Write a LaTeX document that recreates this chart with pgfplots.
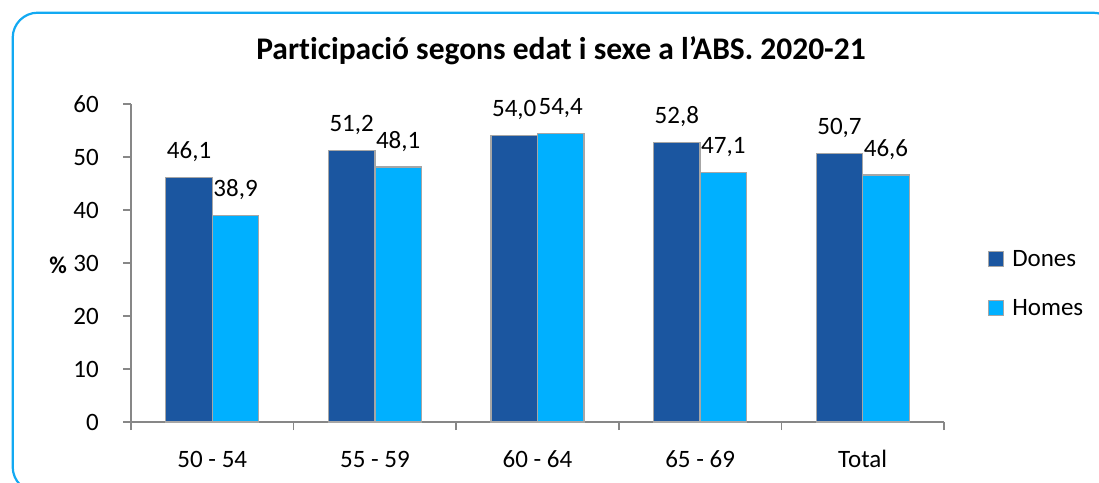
\documentclass[border=0pt]{standalone}
\usepackage{fontspec}
\setmainfont{Carlito}[Ligatures=NoCommon]
\usepackage{pgfplots}
\pgfplotsset{compat=1.18}
\definecolor{dones}{HTML}{1B56A0}
\definecolor{homes}{HTML}{00B0FF}
\definecolor{framec}{HTML}{12A9F2}
\definecolor{axisgray}{HTML}{878787}
\definecolor{bargray}{HTML}{A6A6A6}
\begin{document}
\begin{tikzpicture}[x=1pt,y=1pt]
\useasboundingbox (0,0) rectangle (1099,482);
\begin{scope}
\clip (0,0) rectangle (1099,482);
\draw[framec, line width=2.2pt, rounded corners=25pt] (12.7,469.3) rectangle (1118,-10);
\end{scope}
\node[anchor=base, inner sep=0pt, font=\fontsize{31.5}{36}\selectfont\bfseries] at (561,422.7) {Participació segons edat i sexe a l’ABS. 2020-21};
\node[anchor=center, inner sep=0pt, font=\fontsize{24}{28}\selectfont\bfseries] at (58,217) {\%};
\begin{axis}[
  at={(131pt,60pt)}, anchor=south west,
  scale only axis, width=813pt, height=318pt,
  xmin=-0.5, xmax=4.5, ymin=0, ymax=60,
  axis x line*=bottom, axis y line*=left,
  axis line style={-, axisgray, line width=1.6pt},
  /pgf/number format/assume math mode=true,
  ytick={0,10,...,60},
  xtick={-0.5,0.5,1.5,2.5,3.5,4.5},
  xticklabels={},
  extra x ticks={0,1,2,3,4},
  extra x tick labels={50 - 54, 55 - 59, 60 - 64, 65 - 69, Total},
  extra x tick style={major tick length=0pt, tick label style={anchor=base, inner sep=0pt, yshift=-45pt}},
  tick align=outside,
  major tick length=8pt,
  tick style={axisgray, line width=1.6pt},
  ticklabel style={font=\fontsize{25}{30}\selectfont},
  yticklabel style={anchor=east, inner sep=0pt, xshift=-24pt},
  ybar, bar width=46.5pt,
  nodes near coords={\pgfmathprintnumber[fixed,fixed zerofill,precision=1,use comma,assume math mode=true]{\pgfplotspointmeta}},
  every node near coord/.append style={font=\fontsize{25}{30}\selectfont, anchor=south, inner sep=0pt, yshift=15pt, black},
  legend style={at={(1.054,0.4355)}, anchor=west, draw=none, fill=none, inner sep=0pt, row sep=31pt, font=\fontsize{25}{30}\selectfont, nodes={inner sep=0pt}, column sep=8pt},
  legend cell align=left,
  legend image code/.code={\draw[#1, draw=bargray, line width=1.2pt] (0pt,-7.5pt) rectangle (15pt,7.5pt);},
]
\addplot[fill=dones, draw=bargray, line width=1.3pt, bar shift=-23.25pt] coordinates {(0,46.1) (1,51.2) (2,54.0) (3,52.8) (4,50.7)};
\addplot[fill=homes, draw=bargray, line width=1.3pt, bar shift=23.25pt] coordinates {(0,38.9) (1,48.1) (2,54.4) (3,47.1) (4,46.6)};
\legend{Dones, Homes}
\end{axis}
\end{tikzpicture}
\end{document}
